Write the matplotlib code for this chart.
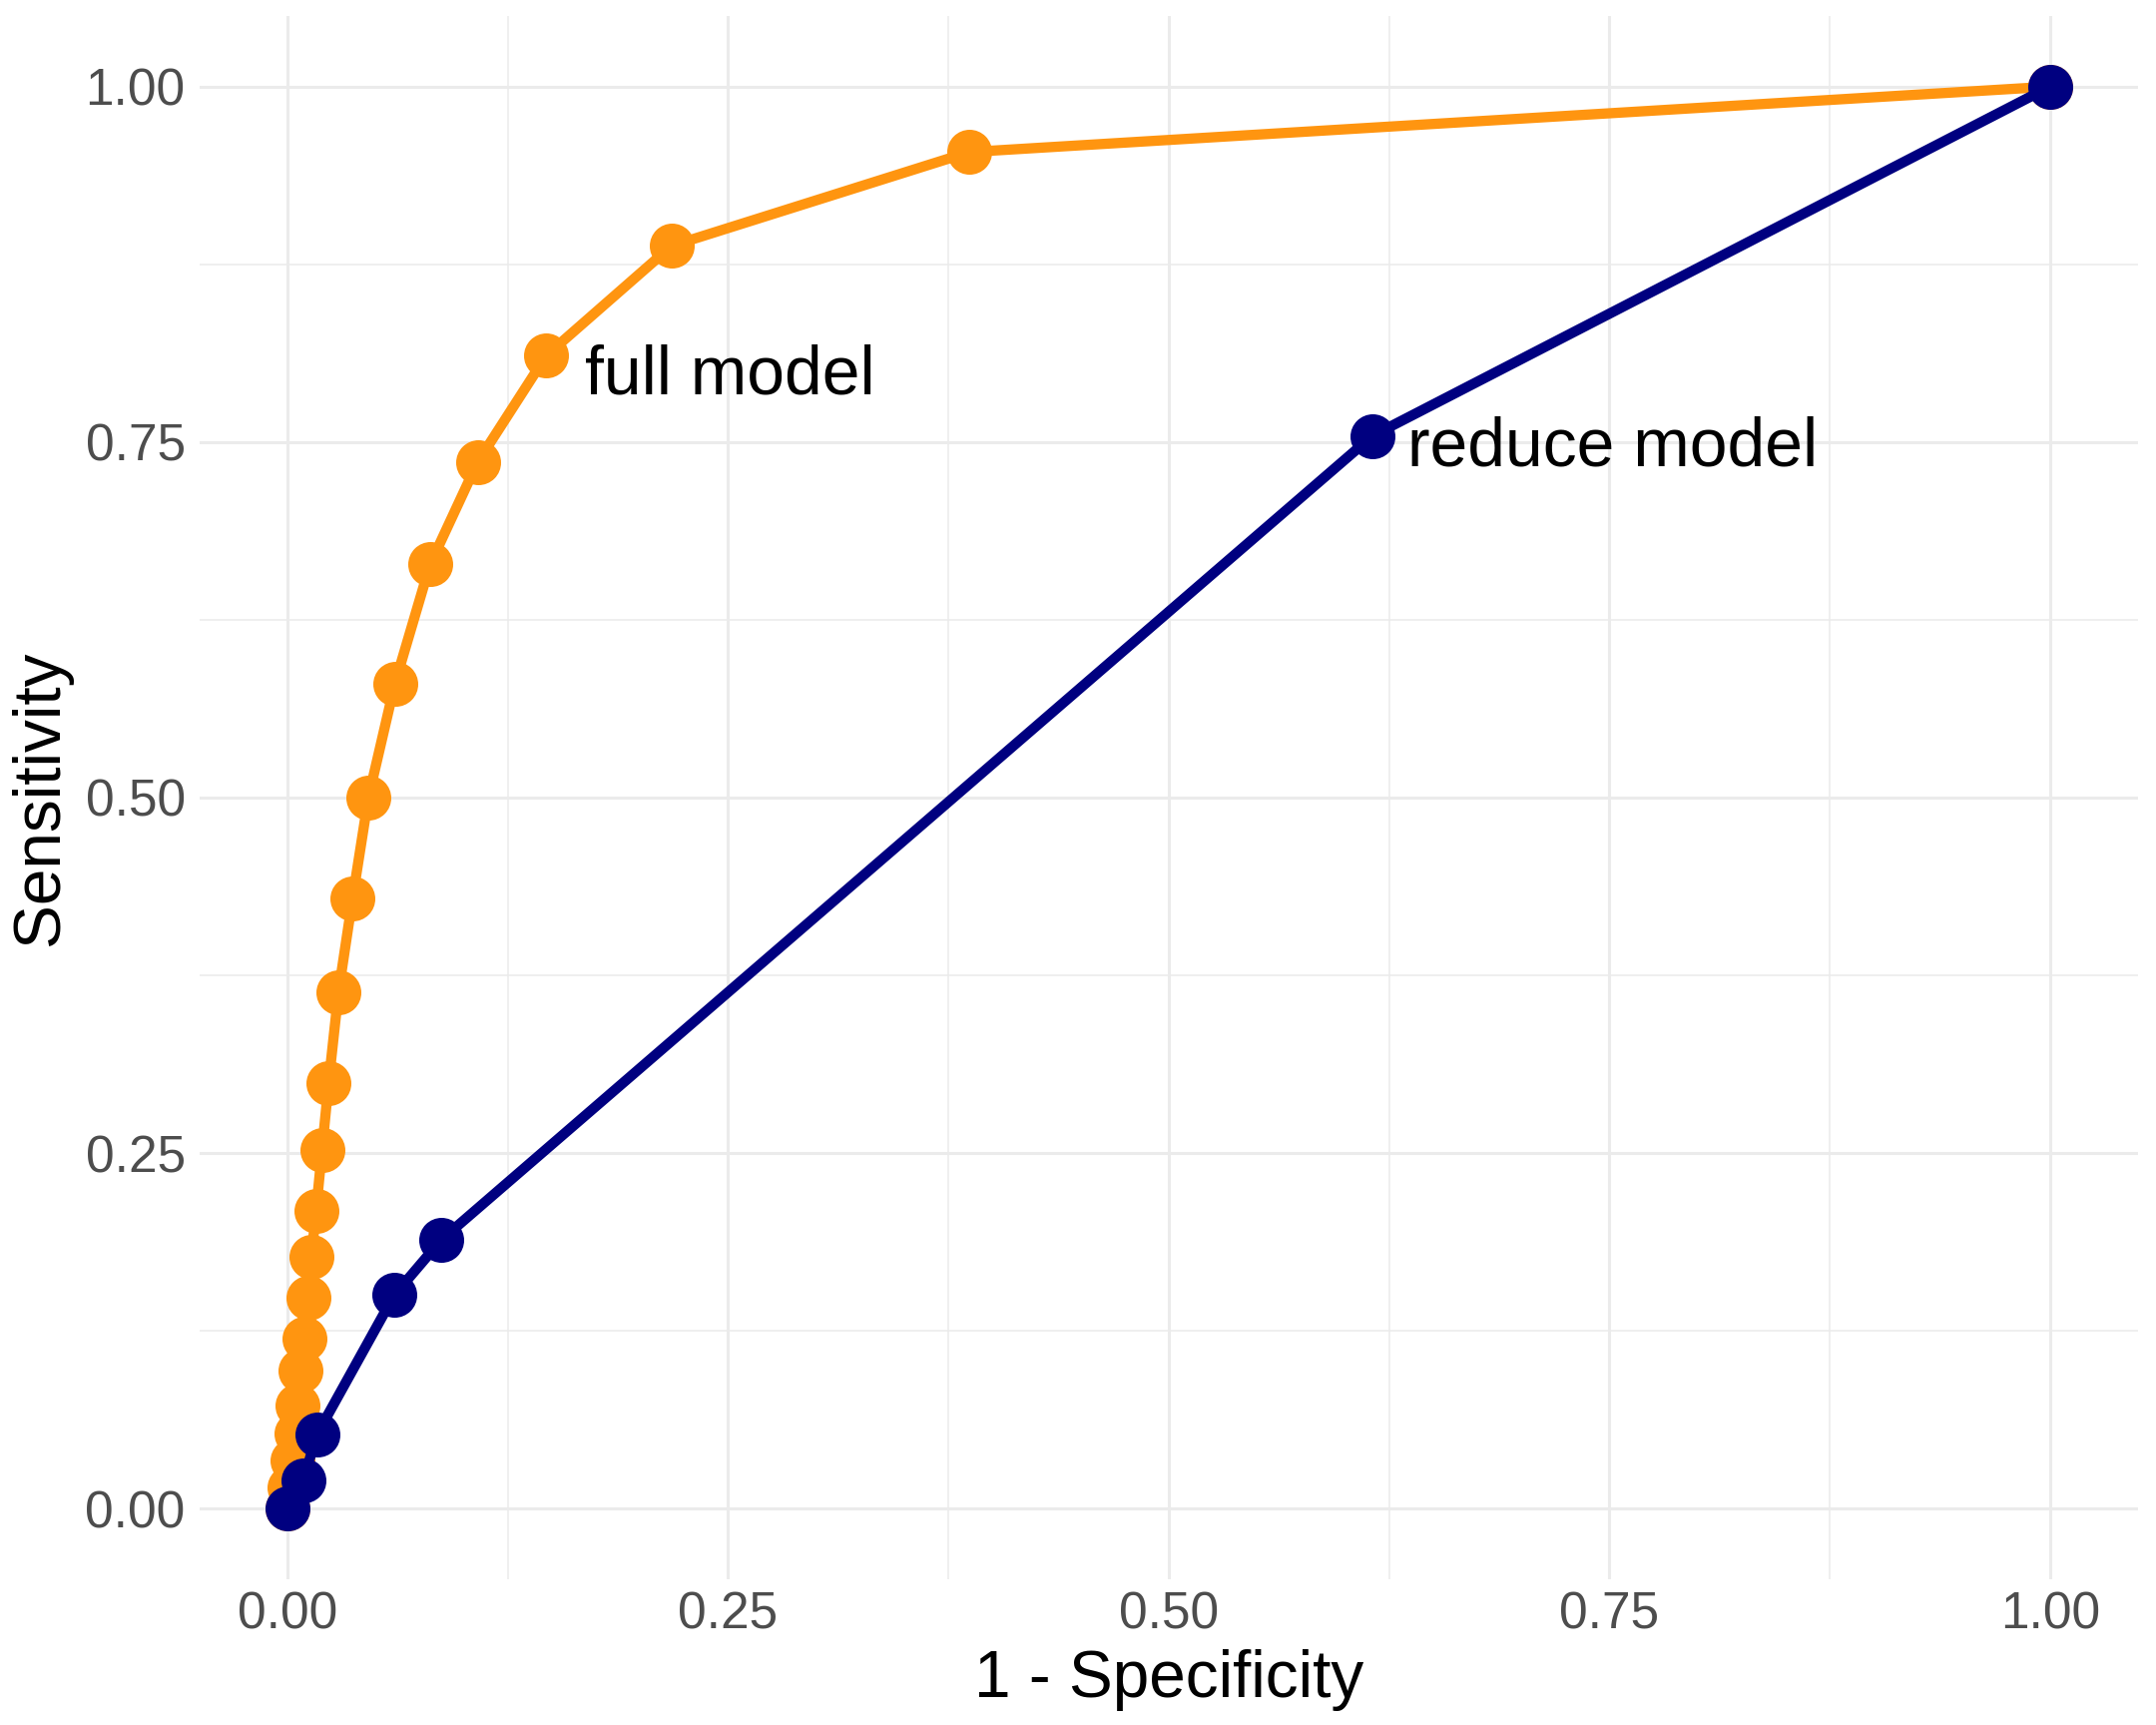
import numpy as np
import matplotlib.pyplot as plt

plt.rcParams['font.family'] = ['Liberation Sans', 'DejaVu Sans']

# ROC points (1 - specificity, sensitivity)
full_fpr = [0.0, 0.0012, 0.0031, 0.0050, 0.0059, 0.0076, 0.0095, 0.0118, 0.0136,
            0.0163, 0.0197, 0.0234, 0.029, 0.037, 0.046, 0.061, 0.081, 0.108,
            0.147, 0.218, 0.387, 1.0]
full_tpr = [0.0, 0.015, 0.0336, 0.0528, 0.0722, 0.0968, 0.1193, 0.1483, 0.1768,
            0.2091, 0.2524, 0.299, 0.363, 0.429, 0.500, 0.580, 0.664, 0.736,
            0.811, 0.888, 0.954, 1.0]

reduce_fpr = [0.0, 0.0091, 0.0169, 0.0606, 0.0874, 0.6156, 1.0]
reduce_tpr = [0.0, 0.020, 0.0523, 0.150, 0.189, 0.7544, 1.0]

labels = ['full model', 'reduce model']
label_pos = [(0.1688, 0.7836), (0.6354, 0.7333)]
colors = ['#FF9510', '#000080']

fig = plt.figure(figsize=(10.8, 8.64), dpi=200)
ax = fig.add_axes([0.0924, 0.0843, 0.8993, 0.9067])

ax.plot(full_fpr, full_tpr, color=colors[0], lw=3.7, marker='o', ms=15.2,
        solid_capstyle='butt', zorder=3)
ax.plot(reduce_fpr, reduce_tpr, color=colors[1], lw=3.7, marker='o', ms=15.2,
        solid_capstyle='butt', zorder=4)

for text, (x, y) in zip(labels, label_pos):
    ax.text(x, y, text, fontsize=24.4, color='black', ha='left', va='baseline', zorder=5)

ticks = [0.0, 0.25, 0.5, 0.75, 1.0]
ax.set_xlim(-0.05, 1.05)
ax.set_ylim(-0.05, 1.05)
ax.set_xticks(ticks)
ax.set_yticks(ticks)
ax.set_xticklabels([f'{t:.2f}' for t in ticks])
ax.set_yticklabels([f'{t:.2f}' for t in ticks])
ax.set_xticks(np.arange(0.125, 1.0, 0.25), minor=True)
ax.set_yticks(np.arange(0.125, 1.0, 0.25), minor=True)

ax.grid(True, which='major', color='#EBEBEB', lw=1.1)
ax.grid(True, which='minor', color='#EBEBEB', lw=0.55)
ax.set_axisbelow(True)
for s in ax.spines.values():
    s.set_visible(False)
ax.tick_params(which='both', length=0, labelsize=18.5, labelcolor='#4D4D4D')
ax.tick_params(axis='x', pad=4)
ax.tick_params(axis='y', pad=5)

ax.set_xlabel('1 - Specificity', fontsize=23.7, labelpad=3.5)
ax.set_ylabel('Sensitivity', fontsize=23.7, labelpad=5)

fig.savefig('out.png', dpi=200)
